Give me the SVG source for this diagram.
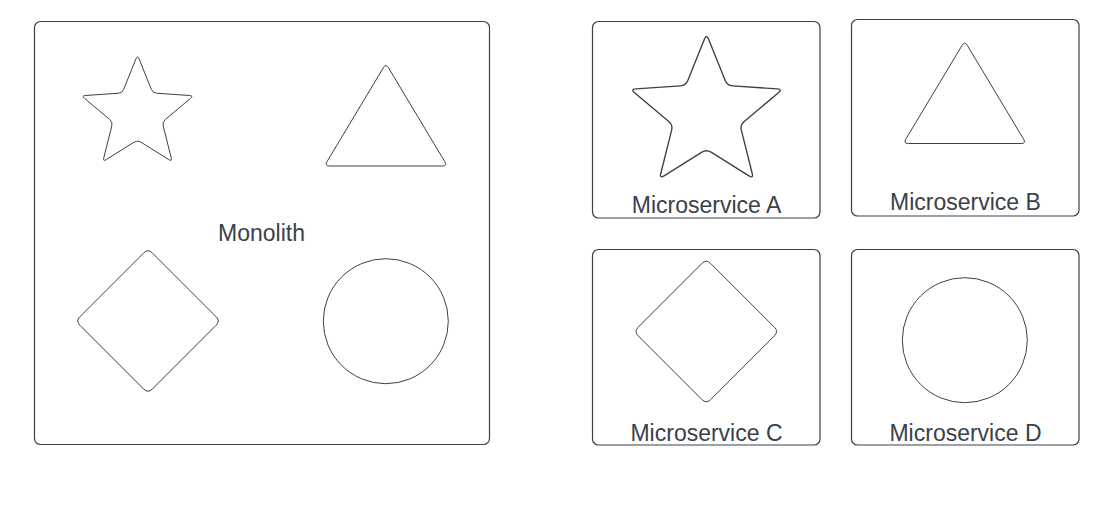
<svg xmlns="http://www.w3.org/2000/svg" width="1117" height="505" viewBox="0 0 1117 505">
<style>
.box{fill:#ffffff;stroke:#3a414a;stroke-width:1.2}
.shape{fill:#ffffff;stroke:#3a414a;stroke-width:1;vector-effect:non-scaling-stroke}
.lbl{font-family:"Liberation Sans",Arial,sans-serif;font-size:23px;fill:#3a414a;text-anchor:middle}
</style>
<defs>
<path id="star" d="M-1.49,-55.29 Q0,-59 1.49,-55.29 L13.79,-24.74 Q15.28,-21.03 19.27,-20.76 L52.12,-18.50 Q56.11,-18.23 53.04,-15.66 L27.80,5.46 Q24.73,8.03 25.70,11.91 L33.71,43.85 Q34.68,47.73 31.29,45.61 L3.39,28.12 Q0,26 -3.39,28.12 L-31.29,45.61 Q-34.68,47.73 -33.71,43.85 L-25.70,11.91 Q-24.73,8.03 -27.80,5.46 L-53.04,-15.66 Q-56.11,-18.23 -52.12,-18.50 L-19.27,-20.76 Q-15.28,-21.03 -13.79,-24.74 Z"/>
<path id="tri" d="M-2.57,4.29 Q0,0 2.57,4.29 L58.93,98.21 Q61.5,102.5 56.5,102.5 L-56.5,102.5 Q-61.5,102.5 -58.93,98.21 Z"/>
<path id="dia" d="M-4.24,-68.16 Q0,-72.4 4.24,-68.16 L68.16,-4.24 Q72.4,0 68.16,4.24 L4.24,68.16 Q0,72.4 -4.24,68.16 L-68.16,4.24 Q-72.4,0 -68.16,-4.24 Z"/>
</defs>
<rect width="1117" height="505" fill="#ffffff"/>
<g id="monolith">
<rect class="box" x="34.5" y="21.5" width="455" height="423" rx="6"/>
<text class="lbl" x="261.5" y="240.5">Monolith</text>
<use href="#star" class="shape" transform="translate(137.5,114)"/>
<use href="#tri" class="shape" transform="translate(385.9,63.5)"/>
<use href="#dia" class="shape" transform="translate(148,321)"/>
<circle class="shape" cx="385.8" cy="321.2" r="62.5"/>
</g>
<g id="microservice-a">
<rect class="box" x="592.5" y="21.5" width="227.5" height="196.5" rx="6"/>
<use href="#star" class="shape" transform="translate(706.5,114) scale(1.356)"/>
<text class="lbl" x="706.5" y="212.5">Microservice A</text>
</g>
<g id="microservice-b">
<rect class="box" x="851.5" y="19.5" width="227.5" height="196.5" rx="6"/>
<use href="#tri" class="shape" transform="translate(964.7,41)"/>
<text class="lbl" x="965.5" y="210">Microservice B</text>
</g>
<g id="microservice-c">
<rect class="box" x="592.5" y="249.5" width="227.5" height="195.5" rx="6"/>
<use href="#dia" class="shape" transform="translate(706.3,331.5)"/>
<text class="lbl" x="706.5" y="440.5">Microservice C</text>
</g>
<g id="microservice-d">
<rect class="box" x="851.5" y="249.5" width="227.5" height="195.5" rx="6"/>
<circle class="shape" cx="964.8" cy="340.2" r="62.5"/>
<text class="lbl" x="965.5" y="440.5">Microservice D</text>
</g>
<g id="connectors"/>
</svg>
